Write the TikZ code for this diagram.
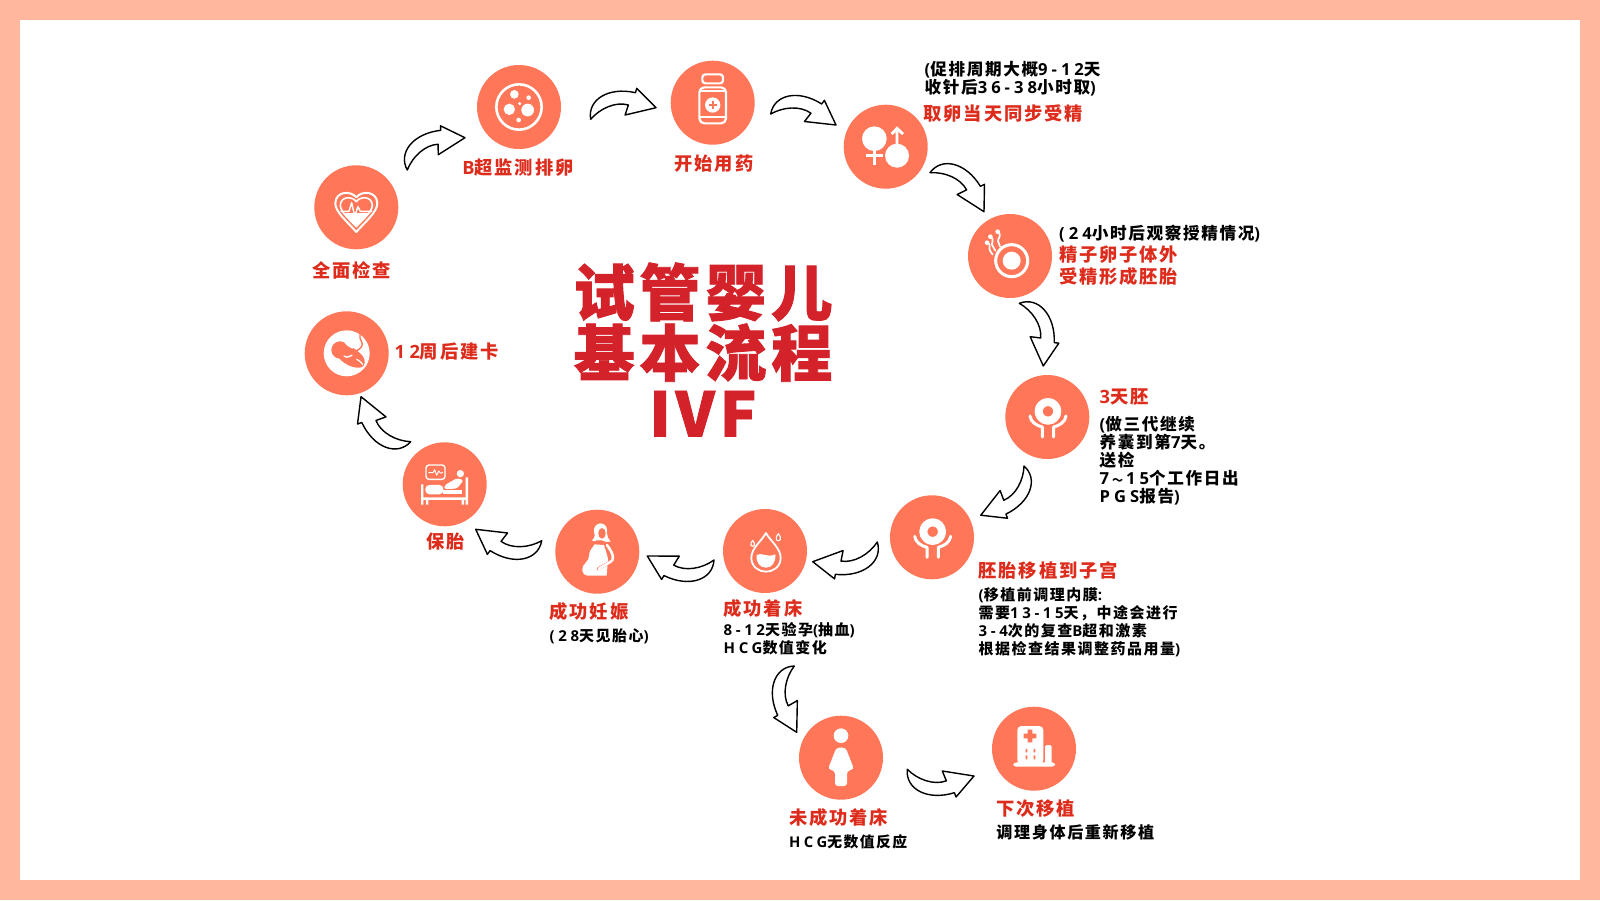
\documentclass[tikz,border=0pt]{standalone}
\usepackage{fontspec}
\setmainfont[LetterSpace=10]{Noto Sans CJK SC}
\newfontfamily\openf[LetterSpace=24]{Open Sans}
\newfontfamily\titlef[LetterSpace=8,BoldFeatures={FakeBold=1.4}]{Noto Sans CJK SC}
\newcommand\la[1]{{\openf #1}}
\definecolor{peach}{HTML}{FFB89E}
\definecolor{coral}{HTML}{FF7758}
\definecolor{labelred}{HTML}{DD2C1C}
\definecolor{titlered}{HTML}{D32229}
\tikzset{
  stage/.style={circle,fill=coral,draw=none,minimum size=84pt,inner sep=0pt},
  ico/.style={shift={(#1)},x=.33333pt,y=-.33333pt},
  wh/.style={draw=white,line width=#1,line cap=round,line join=round},
  flowarrow/.style={draw=black,fill=white,line width=1.4pt,line join=round},
  redlabel/.style={text=labelred,font=\bfseries\fontsize{#1}{22}\selectfont,align=left,anchor=west,inner sep=0pt},
  blacklabel/.style={text=black,font=\bfseries\fontsize{#1}{18}\selectfont,align=left,anchor=west,inner sep=0pt}
}
\newcommand\curvedflow[3]{%
  \path (#1); \pgfgetlastxy{\xa}{\ya}%
  \path (#2); \pgfgetlastxy{\xb}{\yb}%
  \pgfmathsetmacro\flowang{atan2(\yb-\ya,\xb-\xa)}%
  \pgfmathsetmacro\flowlen{veclen(\xb-\xa,\yb-\ya)}%
  \begin{scope}[shift={(#1)},rotate=\flowang,x=\flowlen pt,y=#3*\flowlen pt]
    \draw[flowarrow] (0,0) .. controls (0,.30) and (.35,.44) .. (.734,.277)
      -- (.765,.338) -- (1,0) -- (.522,-.027) -- (.597,.113)
      .. controls (.42,.2) and (.17,.14) .. cycle;
  \end{scope}}
\begin{document}
\begin{tikzpicture}[x=1pt,y=-1pt]
\useasboundingbox (0,0) rectangle (1600,900);
\fill[peach] (0,0) rectangle (1600,900);
\fill[white] (20,20) rectangle (1580,880);

% stages
\node[stage] (check) at (356.3,207.3) {};
\node[stage] (scan) at (519,107) {};
\node[stage] (drug) at (712.7,102.7) {};
\node[stage] (fert) at (885.7,146.7) {};
\node[stage] (ivf) at (1010,256) {};
\node[stage] (day3) at (1047.3,417) {};
\node[stage] (transfer) at (932,537.3) {};
\node[stage] (implant) at (765,551) {};
\node[stage] (preg) at (597.3,551.7) {};
\node[stage] (keep) at (444.7,484.3) {};
\node[stage] (week12) at (346.7,353.3) {};
\node[stage] (fail) at (841,757.7) {};
\node[stage] (next) at (1034,748.7) {};

% heart
\begin{scope}[ico=check]
  \draw[wh=2pt] (0,-30) .. controls (-15,-50) and (-62,-50) .. (-63,-12) .. controls (-63,15) and (-25,45) .. (0,74) .. controls (25,45) and (63,15) .. (63,-12) .. controls (62,-50) and (15,-50) .. cycle;
  \begin{scope}
    \clip (0,-17) .. controls (-12,-34) and (-47,-34) .. (-48,-6) .. controls (-48,14) and (-18,38) .. (0,58) .. controls (18,38) and (48,14) .. (48,-6) .. controls (47,-34) and (12,-34) .. cycle;
    \fill[white] (-60,16) rectangle (60,70);
  \end{scope}
  \draw[wh=1.6pt] (0,-17) .. controls (-12,-34) and (-47,-34) .. (-48,-6) .. controls (-48,14) and (-18,38) .. (0,58) .. controls (18,38) and (48,14) .. (48,-6) .. controls (47,-34) and (12,-34) .. cycle;
  \draw[wh=1.4pt] (-46,12) -- (-22,12) -- (-14,-14) -- (-5,26) -- (5,-2) -- (12,12) -- (46,12);
\end{scope}
% petri dish
\begin{scope}[ico=scan]
  \draw[wh=2.6pt] (0,0) circle (68);
  \fill[white] (-14,-38) circle (13) (29,-28) circle (7) (2,-10) circle (5) (-29,7) circle (17) (26,9) circle (19) (-1,39) circle (7);
\end{scope}
% bottle
\begin{scope}[ico=drug]
  \draw[wh=2.2pt,rounded corners=3pt] (-31,-85) rectangle (31,-58);
  \draw[wh=2.2pt,rounded corners=5pt] (-40,-46) rectangle (40,62);
  \draw[wh=2pt] (-38,-36) -- (38,-36) (-38,44) -- (38,44);
  \fill[white] (0,7) circle (23);
  \draw[draw=coral,line width=1.8pt] (-12,7) -- (12,7) (0,-5) -- (0,19);
\end{scope}
% gender symbols
\begin{scope}[ico=fert]
  \fill[white] (-34,-24) circle (37) (34,27) circle (36);
  \draw[draw=white,line width=3pt] (-34,10) -- (-34,56) (-60,27) -- (-7,27);
  \draw[draw=white,line width=2.8pt] (34,0) -- (34,-50) (18,-38) -- (34,-55) -- (52,-38);
\end{scope}
% sperm and egg
\begin{scope}[ico=ivf]
  \draw[wh=3pt] (5,14) circle (48);
  \fill[white] (5,14) circle (27);
  \draw[wh=1.7pt] (-36,-73) .. controls (-22,-62) and (-38,-52) .. (-36,-44) .. controls (-35,-38) and (-30,-36) .. (-30,-28);
  \draw[wh=1.7pt] (-58,-58) .. controls (-44,-50) and (-60,-36) .. (-52,-30) .. controls (-48,-26) and (-46,-22) .. (-44,-16);
  \draw[wh=1.7pt] (-68,-40) .. controls (-54,-36) and (-66,-22) .. (-60,-16) .. controls (-56,-12) and (-54,-10) .. (-52,-4);
  \fill[white] (-37,-73) circle (7) (-59,-58) circle (7) (-69,-40) circle (7);
\end{scope}
% embryo in hands (day 3)
\begin{scope}[ico=day3]
  \draw[wh=8pt] (2,-17) circle (28);
  \draw[wh=3pt] (-52,-3) .. controls (-50,15) and (-32,26) .. (-15,30) -- (-15,60);
  \draw[wh=3pt] (56,-3) .. controls (54,15) and (36,26) .. (19,30) -- (19,60);
\end{scope}
% embryo in hands (transfer)
\begin{scope}[ico=transfer]
  \draw[wh=8pt] (2,-17) circle (28);
  \draw[wh=3pt] (-52,-3) .. controls (-50,15) and (-32,26) .. (-15,30) -- (-15,60);
  \draw[wh=3pt] (56,-3) .. controls (54,15) and (36,26) .. (19,30) -- (19,60);
\end{scope}
% drop
\begin{scope}[ico=implant]
  \draw[wh=1.8pt] (3,-54) .. controls (-10,-30) and (-42,-8) .. (-41,22) .. controls (-40,48) and (-18,62) .. (3,62) .. controls (24,62) and (46,48) .. (47,22) .. controls (48,-8) and (16,-30) .. cycle;
  \fill[white] (-25,12) .. controls (-10,2) and (5,22) .. (31,10) .. controls (33,35) and (20,50) .. (3,50) .. controls (-15,50) and (-28,35) .. cycle;
  \draw[wh=1.1pt] (-37,-32) .. controls (-40,-26) and (-45,-22) .. (-42,-17) .. controls (-39,-13) and (-35,-13) .. (-32,-17) .. controls (-29,-22) and (-34,-26) .. cycle;
  \draw[wh=1.1pt] (40,-52) .. controls (36,-46) and (31,-40) .. (34,-34) .. controls (37,-29) and (43,-29) .. (46,-34) .. controls (49,-40) and (44,-46) .. cycle;
\end{scope}
% pregnant woman
\begin{scope}[ico=preg]
  \fill[white] (10,-85) .. controls (26,-85) and (31,-70) .. (29,-56) .. controls (28,-46) and (34,-38) .. (40,-30) .. controls (30,-28) and (22,-30) .. (14,-34) -- (-2,-34) .. controls (-8,-30) and (-12,-31) .. (-16,-34) .. controls (-8,-42) and (-6,-48) .. (-10,-60) .. controls (-12,-74) and (-2,-85) .. (10,-85) -- cycle;
  \fill[coral] (14,-55) ellipse (11 and 16);
  \fill[white] (-8,-22) -- (20,-20) .. controls (26,0) and (32,15) .. (32,25) -- (28,72) -- (-28,72) .. controls (-50,70) and (-50,45) .. (-34,32) .. controls (-20,20) and (-30,10) .. (-18,-8) -- cycle;
  \draw[draw=coral,line width=3pt,line cap=round] (26,-22) .. controls (38,-5) and (50,10) .. (46,24) .. controls (44,30) and (20,40) .. (2,52);
  \draw[wh=2.6pt] (29,-20) .. controls (40,-5) and (50,10) .. (46,24) .. controls (44,30) and (20,40) .. (4,52);
\end{scope}
% hospital bed
\begin{scope}[ico=keep]
  \draw[wh=1.4pt,rounded corners=3pt] (-56,-58) rectangle (1,-15);
  \draw[wh=.9pt] (-48,-35) -- (-35,-35) -- (-30,-44) -- (-24,-27) -- (-18,-40) -- (-12,-33) -- (-6,-36);
  \fill[white] (47,-32) circle (11);
  \fill[white] (-71,0) rectangle (-64,61) (63,-21) rectangle (70,61) (-64,39) rectangle (63,47) (-56,39) rectangle (-49,61) (51,39) rectangle (58,61);
  \fill[white,rounded corners=4pt] (-58,30) -- (-58,2) -- (-4,2) -- (-4,30) -- cycle;
  \fill[white] (-4,30) -- (52,30) -- (52,16) -- (-4,16) -- cycle;
  \fill[white,rounded corners=2pt] (-1,14) -- (-1,3) -- (38,-19) -- (56,-12) -- (37,13) -- cycle;
\end{scope}
% fetus
\begin{scope}[ico=week12]
  \fill[white] (0,0) circle (69);
  \fill[coral] (-20,-10) circle (26);
  \fill[coral] (-8,-30) .. controls (10,-24) and (32,-10) .. (48,8) .. controls (56,20) and (58,36) .. (44,42) .. controls (28,46) and (0,40) .. (-26,12) -- cycle;
  \draw[draw=coral,line width=1.4pt] (30,-8) .. controls (42,-14) and (52,-24) .. (44,-36) .. controls (40,-44) and (38,-48) .. (40,-58);
  \draw[wh=1.6pt] (-6,-36) .. controls (0,-26) and (8,-20) .. (18,-16);
  \draw[wh=1.4pt] (-8,8) .. controls (2,16) and (8,8) .. (16,6);
  \draw[wh=1.2pt] (30,18) .. controls (36,22) and (42,24) .. (48,34);
\end{scope}
% woman
\begin{scope}[ico=fail]
  \fill[white] (0,-66) circle (22);
  \fill[white,rounded corners=3pt] (-14,-30) -- (14,-30) -- (39,34) -- (18,40) -- (18,85) -- (-18,85) -- (-18,40) -- (-39,34) -- cycle;
\end{scope}
% hospital
\begin{scope}[ico=next]
  \fill[white,rounded corners=3pt] (-62,41) rectangle (63,54);
  \fill[white,rounded corners=4pt] (-50,46) rectangle (28,-68);
  \fill[white,rounded corners=2pt] (33,46) rectangle (53,-11);
  \fill[coral] (-19,-57) rectangle (-5,-19) (-31,-45) rectangle (7,-31);
  \fill[coral] (-25,1) rectangle (-20,11) (-25,20) rectangle (-20,32) (-1,1) rectangle (4,11) (-1,20) rectangle (4,32);
\end{scope}

% flow ends
\coordinate (a1s) at (407.3,170);    \coordinate (a1t) at (465,137.7);
\coordinate (a2s) at (590.7,119.3);  \coordinate (a2t) at (656,107.7);
\coordinate (a3s) at (770.7,114);    \coordinate (a3t) at (836,125);
\coordinate (a4s) at (930,172.7);    \coordinate (a4t) at (984,211.7);
\coordinate (a5s) at (1019.3,303.3); \coordinate (a5t) at (1043.3,366);
\coordinate (a6s) at (1024,466);     \coordinate (a6t) at (980.7,515.3);
\coordinate (a7s) at (877.3,542);    \coordinate (a7t) at (812.7,561.7);
\coordinate (a8s) at (714,560);      \coordinate (a8t) at (647.3,556);
\coordinate (a9s) at (541.7,540.7);  \coordinate (a9t) at (475.7,529.3);
\coordinate (a10s) at (410.7,441.7); \coordinate (a10t) at (361,396.7);
\coordinate (a11s) at (794.3,666);   \coordinate (a11t) at (796.7,732.3);
\coordinate (a12s) at (907.3,769.3); \coordinate (a12t) at (974,776);
\curvedflow{a1s}{a1t}{1}
\curvedflow{a2s}{a2t}{1}
\curvedflow{a3s}{a3t}{1}
\curvedflow{a4s}{a4t}{1}
\curvedflow{a5s}{a5t}{1}
\curvedflow{a6s}{a6t}{1}
\curvedflow{a7s}{a7t}{1}
\curvedflow{a8s}{a8t}{1}
\curvedflow{a9s}{a9t}{1}
\curvedflow{a10s}{a10t}{1}
\curvedflow{a11s}{a11t}{-1}
\curvedflow{a12s}{a12t}{-1}

% title
\node[text=titlered,font=\titlef\bfseries\fontsize{61}{60.5}\selectfont,align=center,inner sep=0pt] (title) at (703,349.5) {试管婴儿\\基本流程\\IVF};

% labels
\node[redlabel=18.3] (t1) at (312.2,270.7) {全面检查};
\node[redlabel=18.3] (t2) at (462.2,168) {\la{B}超监测排卵};
\node[redlabel=18.3] (t3) at (674.5,163.3) {开始用药};
\node[blacklabel=16.6] (t4) at (924.5,78.3) {\la{(}促排周期大概\la{9-12}天\\收针后\la{36-38}小时取\la{)}};
\node[redlabel=18.3] (t5) at (923.5,113.3) {取卵当天同步受精};
\node[blacklabel=16.6] (t6) at (1059,233.7) {\la{(24}小时后观察授精情况\la{)}};
\node[redlabel=18.3] (t7) at (1059,265.7) {精子卵子体外\\受精形成胚胎};
\node[redlabel=18.3] (t8) at (1099.5,397.3) {\la{3}天胚};
\node[blacklabel=16.6] (t9) at (1099.5,461) {\la{(}做三代继续\\养囊到第\la{7}天。\\送检\\\la{7}\hspace{3pt}{\fontsize{11}{11}\selectfont ～}\hspace{3pt}\la{15}个工作日出\\\la{PGS}报告\la{)}};
\node[redlabel=18.3] (t10) at (978.5,570.7) {胚胎移植到子宫};
\node[blacklabel=15] (t11) at (978.5,622.5) {\la{(}移植前调理内膜\la{:}\\需要\la{13-15}天，中途会进行\\\la{3-4}次的复查\la{B}超和激素\\根据检查结果调整药品用量\la{)}};
\node[redlabel=18.3] (t12) at (723.5,608.3) {成功着床};
\node[blacklabel=15] (t13) at (723.5,639) {\la{8-12}天验孕\la{(}抽血\la{)}\\\la{HCG}数值变化};
\node[redlabel=18.3] (t14) at (549.5,611.7) {成功妊娠};
\node[blacklabel=15] (t15) at (549.5,636) {\la{(28}天见胎心\la{)}};
\node[redlabel=18.3] (t16) at (426.2,541.7) {保胎};
\node[redlabel=18.3] (t17) at (394.5,351.7) {\la{12}周后建卡};
\node[redlabel=18.3] (t18) at (788.8,817.3) {未成功着床};
\node[blacklabel=14.8] (t19) at (788.8,841.7) {\la{HCG}无数值反应};
\node[redlabel=18.3] (t20) at (996.2,808.3) {下次移植};
\node[blacklabel=16.1] (t21) at (996.2,832.3) {调理身体后重新移植};
\end{tikzpicture}
\end{document}
